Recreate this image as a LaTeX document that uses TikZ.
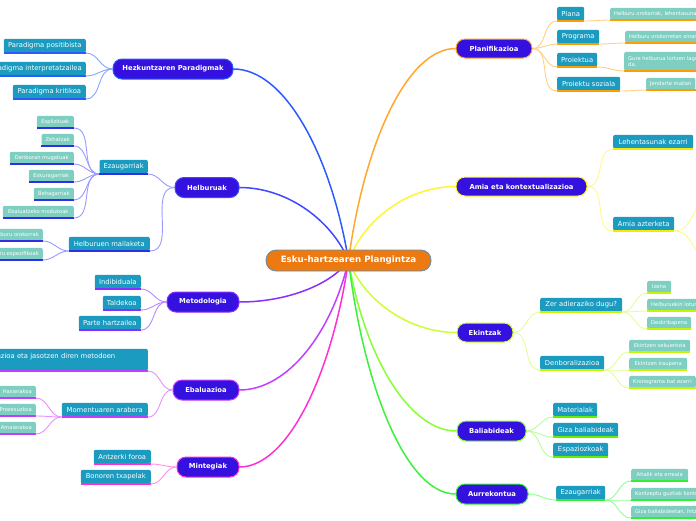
\documentclass[tikz,border=0pt]{standalone}
\usepackage{fontspec}
\setmainfont{DejaVu Sans}
\usetikzlibrary{backgrounds}
\definecolor{cfill}{HTML}{EC7A10}
\definecolor{cborder}{HTML}{5E8FB8}
\definecolor{tfill}{HTML}{3411DE}
\definecolor{sfill}{HTML}{1B9BBF}
\definecolor{lfill}{HTML}{7ECFC1}
% branch colours: main / sub-line / underline
\definecolor{hpM}{HTML}{2B5BFF}\definecolor{hpS}{HTML}{85A5FF}\definecolor{hpU}{HTML}{2B5BFF}
\definecolor{hbM}{HTML}{3E49FF}\definecolor{hbS}{HTML}{9A9AFF}\definecolor{hbU}{HTML}{2F2FE6}
\definecolor{meM}{HTML}{8A2EFF}\definecolor{meS}{HTML}{B889FF}\definecolor{meU}{HTML}{8A2EFF}
\definecolor{ebM}{HTML}{C23EFF}\definecolor{ebS}{HTML}{E690FF}\definecolor{ebU}{HTML}{C23EFF}
\definecolor{miM}{HTML}{FF2FD3}\definecolor{miS}{HTML}{FF8FEA}\definecolor{miU}{HTML}{FF2FD3}
\definecolor{plM}{HTML}{FFA72E}\definecolor{plS}{HTML}{FFCF85}\definecolor{plU}{HTML}{FF9D00}
\definecolor{amM}{HTML}{FFF533}\definecolor{amS}{HTML}{FFF98A}\definecolor{amU}{HTML}{F5EA00}
\definecolor{ekM}{HTML}{CBFF33}\definecolor{ekS}{HTML}{E0FF95}\definecolor{ekU}{HTML}{C6F500}
\definecolor{baM}{HTML}{86FF33}\definecolor{baS}{HTML}{B5FF95}\definecolor{baU}{HTML}{66F000}
\definecolor{auM}{HTML}{3CF03C}\definecolor{auS}{HTML}{8FFF8F}\definecolor{auU}{HTML}{33EE33}
\begin{document}
\begin{tikzpicture}[x=1pt,y=-1pt,
  central/.style={fill=cfill, draw=cborder, line width=0.8pt, rounded corners=10pt, text=white,
    font=\fontsize{8.7}{10}\selectfont\bfseries, minimum width=165pt, minimum height=21pt, inner sep=0pt},
  topic/.style={fill=tfill, draw=#1, line width=1pt, rounded corners=9pt, text=white,
    font=\fontsize{6.8}{8}\selectfont\bfseries, minimum height=20pt, inner sep=0pt},
  subbox/.style={fill=sfill, text=white, rounded corners=2pt, font=\fontsize{6.8}{8}\selectfont,
    minimum height=14pt, inner xsep=4pt, inner ysep=0pt},
  leafbox/.style={fill=lfill, text=white, rounded corners=2pt, font=\fontsize{5.2}{6}\selectfont,
    minimum height=12pt, inner xsep=4pt, inner ysep=0pt},
  mainline/.style={draw=#1, line width=1.5pt},
  subline/.style={draw=#1, line width=0.9pt},
  ul/.style={draw=#1, line width=1.4pt}
]
\useasboundingbox (0,0) rectangle (696,520);
\clip (0,0) rectangle (696,520);

% ---------- central and main topics
\node[central] (c) at (348.5,260.5) {Esku-hartzearen Plangintza};
\node[topic=hpM, minimum width=120pt] (hp) at (173,69) {Hezkuntzaren Paradigmak};
\node[topic=hbM, minimum width=64pt] (hb) at (207,187.5) {Helburuak};
\node[topic=meM, minimum width=72pt] (me) at (203,302) {Metodologia};
\node[topic=ebM, minimum width=66pt] (eb) at (206,390) {Ebaluazioa};
\node[topic=miM, minimum width=62pt] (mi) at (208,467) {Mintegiak};
\node[topic=plM, minimum width=76pt, minimum height=19pt] (pl) at (494,48.5) {Planifikazioa};
\node[topic=amM, minimum width=131pt, minimum height=19pt] (am) at (521.5,186.5) {Amia eta kontextualizazioa};
\node[topic=ekM, minimum width=56pt, minimum height=19pt] (ek) at (485,332.5) {Ekintzak};
\node[topic=baM, minimum width=69pt] (ba) at (491.5,431) {Baliabideak};
\node[topic=auM, minimum width=72pt] (au) at (492,494) {Aurrekontua};

% ---------- left: Hezkuntzaren Paradigmak
\node[subbox, anchor=south east, minimum width=82pt] (p1) at (86,53) {Paradigma positibista};
\node[subbox, anchor=south east] (p2) at (86,76) {Paradigma interpretatzailea};
\node[subbox, anchor=south east, minimum width=73pt] (p3) at (86,99) {Paradigma kritikoa};

% ---------- left: Helburuak
\node[subbox, anchor=south east, minimum width=48pt] (ez1) at (148,174) {Ezaugarriak};
\node[subbox, anchor=south east, minimum width=81pt] (hm) at (150,251) {Helburuen mailaketa};
\node[leafbox, anchor=south east, minimum width=37pt] (e1) at (74,128) {Esplizituak};
\node[leafbox, anchor=south east, minimum width=32pt] (e2) at (74,146) {Zehatzak};
\node[leafbox, anchor=south east, minimum width=64pt] (e3) at (74,164) {Denboran mugatuak};
\node[leafbox, anchor=south east, minimum width=45pt] (e4) at (74,182) {Eskuragarriak};
\node[leafbox, anchor=south east, minimum width=40pt] (e5) at (74,200) {Behagarriak};
\node[leafbox, anchor=south east, minimum width=71pt] (e6) at (74,218) {Ebaluatzeko modukoak};
\node[leafbox, anchor=south east] (h1) at (43,241) {Helburu orokorrak};
\node[leafbox, anchor=south east] (h2) at (43,260) {Helburu espezifikoak};

% ---------- left: Metodologia
\node[subbox, anchor=south east, minimum width=46pt] (m1) at (141,289) {Indibiduala};
\node[subbox, anchor=south east, minimum width=38pt] (m2) at (141,310) {Taldekoa};
\node[subbox, anchor=south east, minimum width=62pt] (m3) at (141,330) {Parte hartzailea};

% ---------- left: Ebaluazioa
\node[subbox, anchor=south east, text width=166pt, align=left, minimum height=22pt] (b1) at (148,371)
  {Ebaluazioa eta jasotzen diren metodoen\\\mbox{}};
\node[subbox, anchor=south east, minimum width=86pt] (b2) at (148,417) {Momentuaren arabera};
\node[leafbox, anchor=south east] (g1) at (36,398) {Hasierakoa};
\node[leafbox, anchor=south east] (g2) at (36,416) {Prozesuzkoa};
\node[leafbox, anchor=south east] (g3) at (36,434) {Amaierakoa};

% ---------- left: Mintegiak
\node[subbox, anchor=south east, minimum width=57pt] (n1) at (151,464) {Antzerki foroa};
\node[subbox, anchor=south east, minimum width=70pt] (n2) at (151,484) {Bonoren txapelak};

% ---------- right: Planifikazioa
\node[subbox, anchor=south west, minimum width=27pt] (q1) at (557,21) {Plana};
\node[subbox, anchor=south west, minimum width=42pt] (q2) at (557,44) {Programa};
\node[subbox, anchor=south west, minimum width=40pt] (q3) at (557,67) {Proiektua};
\node[subbox, anchor=south west, minimum width=63pt] (q4) at (557,91) {Proiektu soziala};
\node[leafbox, anchor=south west] (r1) at (610,20) {Helburu orokorrak, lehentasunak};
\node[leafbox, anchor=south west] (r2) at (625,43) {Helburu orokorretan oinarritzen};
\node[leafbox, anchor=south west, align=left, minimum height=19pt] (r3) at (624,71) {Gure helburua lortzen laguntzen\\da.};
\node[leafbox, anchor=south west] (r4) at (646,90) {Jendarte mailan};

% ---------- right: Amia
\node[subbox, anchor=south west, minimum width=80pt] (a1) at (613,149) {Lehentasunak ezarri};
\node[subbox, anchor=south west, minimum width=61pt] (a2) at (613,231) {Amia azterketa};
\coordinate (ax1) at (716,190);
\coordinate (ax2) at (716,266);

% ---------- right: Ekintzak
\node[subbox, anchor=south west, minimum width=82pt] (k1) at (540,312) {Zer adieraziko dugu?};
\node[subbox, anchor=south west, minimum width=64pt] (k2) at (540,370) {Denboralizazioa};
\node[leafbox, anchor=south west, minimum width=24pt] (t1) at (647,293) {Izena};
\node[leafbox, anchor=south west] (t2) at (647,311) {Helburuekin lotura};
\node[leafbox, anchor=south west, minimum width=43pt] (t3) at (647,329) {Deskribapena};
\node[leafbox, anchor=south west, minimum width=61pt] (u1) at (629,352) {Ekintzen sekuentzia};
\node[leafbox, anchor=south west, minimum width=58pt] (u2) at (629,370) {Ekintzen iraupena};
\node[leafbox, anchor=south west] (u3) at (629,388) {Kronograma bat ezarri};

% ---------- right: Baliabideak
\node[subbox, anchor=south west, minimum width=44pt] (v1) at (553,417) {Materialak};
\node[subbox, anchor=south west, minimum width=65pt] (v2) at (553,437) {Giza baliabideak};
\node[subbox, anchor=south west, minimum width=55pt] (v3) at (553,457) {Espaziozkoak};

% ---------- right: Aurrekontua
\node[subbox, anchor=south west, minimum width=49pt] (w1) at (556,500) {Ezaugarriak};
\node[leafbox, anchor=south west, minimum width=57pt] (x1) at (631,481) {Ahalik eta erreala};
\node[leafbox, anchor=south west] (x2) at (631,500) {Kontzeptu guztiak kontuan hartu};
\node[leafbox, anchor=south west] (x3) at (631,518) {Giza baliabideetan, hitzaldiak};

% ---------- connectors (behind nodes)
\begin{pgfonlayer}{background}
\draw[mainline=hpM] (c.center) .. controls (331,155) and (285,69) .. (hp.east);
\draw[mainline=hbM] (c.center) .. controls (332,221) and (288,187.5) .. (hb.east);
\draw[mainline=meM] (c.center) .. controls (332,284) and (288,302) .. (me.east);
\draw[mainline=ebM] (c.center) .. controls (332,332) and (288,390) .. (eb.east);
\draw[mainline=miM] (c.center) .. controls (332,374) and (288,467) .. (mi.east);
\draw[mainline=plM] (c.center) .. controls (364,144) and (407,48.5) .. (pl.west);
\draw[mainline=amM] (c.center) .. controls (364,220) and (407,186.5) .. (am.west);
\draw[mainline=ekM] (c.center) .. controls (364,300) and (408,332.5) .. (ek.west);
\draw[mainline=baM] (c.center) .. controls (364,354) and (408,431) .. (ba.west);
\draw[mainline=auM] (c.center) .. controls (364,389) and (407,494) .. (au.west);

\foreach \n in {p1,p2,p3}
  \draw[subline=hpS] (hp.west) to[out=180,in=0] (\n.south east);
\foreach \n in {ez1,hm}
  \draw[subline=hbS] (hb.west) to[out=180,in=0] (\n.south east);
\foreach \n in {e1,e2,e3,e4,e5,e6}
  \draw[subline=hbS] (ez1.south west) to[out=180,in=0] (\n.south east);
\foreach \n in {h1,h2}
  \draw[subline=hbS] (hm.south west) to[out=180,in=0] (\n.south east);
\foreach \n in {m1,m2,m3}
  \draw[subline=meS] (me.west) to[out=180,in=0] (\n.south east);
\foreach \n in {b1,b2}
  \draw[subline=ebS] (eb.west) to[out=180,in=0] (\n.south east);
\foreach \n in {g1,g2,g3}
  \draw[subline=ebS] (b2.south west) to[out=180,in=0] (\n.south east);
\foreach \n in {n1,n2}
  \draw[subline=miS] (mi.west) to[out=180,in=0] (\n.south east);

\foreach \n in {q1,q2,q3,q4}
  \draw[subline=plS] (pl.east) to[out=0,in=180] (\n.south west);
\draw[subline=plS] (q1.south east) to[out=0,in=180] (r1.south west);
\draw[subline=plS] (q2.south east) to[out=0,in=180] (r2.south west);
\draw[subline=plS] (q3.south east) to[out=0,in=180] (r3.south west);
\draw[subline=plS] (q4.south east) to[out=0,in=180] (r4.south west);
\foreach \n in {a1,a2}
  \draw[subline=amS] (am.east) to[out=0,in=180] (\n.south west);
\foreach \n in {ax1,ax2}
  \draw[subline=amS] (a2.south east) to[out=0,in=180] (\n);
\foreach \n in {k1,k2}
  \draw[subline=ekS] (ek.east) to[out=0,in=180] (\n.south west);
\foreach \n in {t1,t2,t3}
  \draw[subline=ekS] (k1.south east) to[out=0,in=180] (\n.south west);
\foreach \n in {u1,u2,u3}
  \draw[subline=ekS] (k2.south east) to[out=0,in=180] (\n.south west);
\foreach \n in {v1,v2,v3}
  \draw[subline=baS] (ba.east) to[out=0,in=180] (\n.south west);
\draw[subline=auS] (au.east) to[out=0,in=180] (w1.south west);
\foreach \n in {x1,x2,x3}
  \draw[subline=auS] (w1.south east) to[out=0,in=180] (\n.south west);
\end{pgfonlayer}

% ---------- underlines
\foreach \n in {p1,p2,p3}
  \draw[ul=hpU] (\n.south west) -- (\n.south east);
\foreach \n in {ez1,hm,e1,e2,e3,e4,e5,e6,h1,h2}
  \draw[ul=hbU] (\n.south west) -- (\n.south east);
\foreach \n in {m1,m2,m3}
  \draw[ul=meU] (\n.south west) -- (\n.south east);
\foreach \n in {b1,b2,g1,g2,g3}
  \draw[ul=ebU] (\n.south west) -- (\n.south east);
\foreach \n in {n1,n2}
  \draw[ul=miU] (\n.south west) -- (\n.south east);
\foreach \n in {q1,q2,q3,q4,r1,r2,r3,r4}
  \draw[ul=plU] (\n.south west) -- (\n.south east);
\foreach \n in {a1,a2}
  \draw[ul=amU] (\n.south west) -- (\n.south east);
\foreach \n in {k1,k2,t1,t2,t3,u1,u2,u3}
  \draw[ul=ekU] (\n.south west) -- (\n.south east);
\foreach \n in {v1,v2,v3}
  \draw[ul=baU] (\n.south west) -- (\n.south east);
\foreach \n in {w1,x1,x2,x3}
  \draw[ul=auU] (\n.south west) -- (\n.south east);
\end{tikzpicture}
\end{document}
